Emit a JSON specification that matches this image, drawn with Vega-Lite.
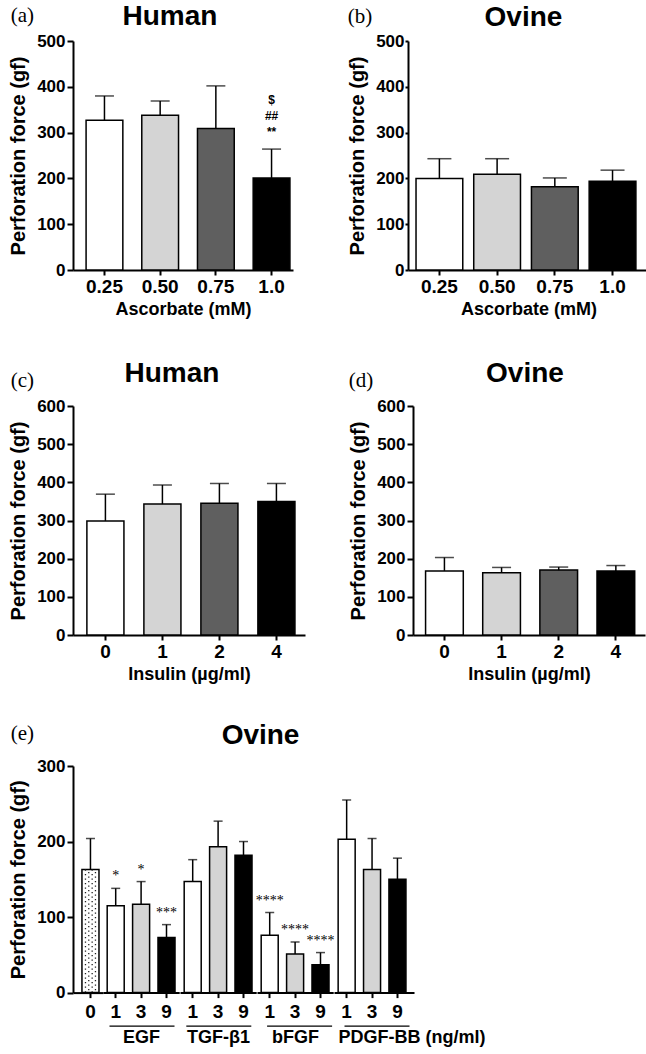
{
  "$schema": "https://vega.github.io/schema/vega-lite/v6.json",
  "background": "white",
  "padding": {"left": 8, "top": 2, "right": 0, "bottom": 0},
  "config": {
    "view": {"stroke": null},
    "font": "Liberation Sans",
    "axis": {"domainColor": "#000", "domainWidth": 2, "tickColor": "#000", "tickWidth": 2, "tickSize": 6, "labelFont": "Liberation Sans", "labelFontWeight": "bold", "labelFontSize": 17, "labelColor": "#000", "titleFont": "Liberation Sans", "titleFontWeight": "bold", "titleFontSize": 20, "titleColor": "#000", "grid": false, "labelPadding": 2},
    "axisX": {"labelAngle": 0, "labelFontSize": 19, "titlePadding": 4, "titleFontSize": 18, "tickSize": 5},
    "axisY": {"titlePadding": 8},
    "title": {"font": "Liberation Sans", "fontSize": 28, "fontWeight": "bold", "color": "#000"}
  },
  "datasets": {
    "ascH": [
      {"conc": "0.25", "mean": 327, "upper": 380, "sig": ""},
      {"conc": "0.50", "mean": 338, "upper": 369, "sig": ""},
      {"conc": "0.75", "mean": 309, "upper": 402, "sig": ""},
      {"conc": "1.0", "mean": 201, "upper": 264, "sig": "$|##|**"}
    ],
    "ascO": [
      {"conc": "0.25", "mean": 200, "upper": 243},
      {"conc": "0.50", "mean": 209, "upper": 243},
      {"conc": "0.75", "mean": 182, "upper": 201},
      {"conc": "1.0", "mean": 194, "upper": 218}
    ],
    "insH": [
      {"dose": "0", "mean": 299, "upper": 369},
      {"dose": "1", "mean": 343, "upper": 393},
      {"dose": "2", "mean": 345, "upper": 397},
      {"dose": "4", "mean": 350, "upper": 397}
    ],
    "insO": [
      {"dose": "0", "mean": 168, "upper": 203},
      {"dose": "1", "mean": 163, "upper": 177},
      {"dose": "2", "mean": 170, "upper": 178},
      {"dose": "4", "mean": 168, "upper": 182}
    ],
    "ovE": [
      {"factor": "control", "dose": "0", "mean": 163, "upper": 204, "sig": ""},
      {"factor": "EGF", "dose": "1", "mean": 115, "upper": 138, "sig": "*"},
      {"factor": "EGF", "dose": "3", "mean": 117, "upper": 147, "sig": "*"},
      {"factor": "EGF", "dose": "9", "mean": 73, "upper": 90, "sig": "***"},
      {"factor": "TGF-β1", "dose": "1", "mean": 147, "upper": 176, "sig": ""},
      {"factor": "TGF-β1", "dose": "3", "mean": 193, "upper": 227, "sig": ""},
      {"factor": "TGF-β1", "dose": "9", "mean": 182, "upper": 200, "sig": ""},
      {"factor": "bFGF", "dose": "1", "mean": 76, "upper": 106, "sig": "****"},
      {"factor": "bFGF", "dose": "3", "mean": 51, "upper": 67, "sig": "****"},
      {"factor": "bFGF", "dose": "9", "mean": 37, "upper": 53, "sig": "****"},
      {"factor": "PDGF-BB", "dose": "1", "mean": 203, "upper": 255, "sig": ""},
      {"factor": "PDGF-BB", "dose": "3", "mean": 163, "upper": 204, "sig": ""},
      {"factor": "PDGF-BB", "dose": "9", "mean": 150, "upper": 178, "sig": ""}
    ]
  },
  "spacing": 42,
  "vconcat": [
    {
      "spacing": 54,
      "hconcat": [
        {
          "title": {"text": "(a)", "anchor": "start", "frame": "bounds", "font": "Liberation Serif", "fontSize": 21, "fontWeight": "normal", "offset": -23, "dx": 2},
          "vconcat": [
            {
              "title": {"text": "Human", "dx": -13, "offset": 0},
              "width": 220, "height": 229,
              "data": {"name": "ascH"},
              "encoding": {"x": {"field": "conc", "type": "nominal", "sort": null, "scale": {"paddingInner": 0.34, "paddingOuter": 0.145, "align": 0.81}, "axis": {"title": "Ascorbate (mM)"}}},
              "layer": [
                {"mark": {"type": "bar", "stroke": "black", "strokeWidth": 1.5},
                 "encoding": {"y": {"field": "mean", "type": "quantitative", "title": "Perforation force (gf)", "scale": {"domain": [0, 500]}, "axis": {"values": [0, 100, 200, 300, 400, 500]}},
                              "fill": {"condition": [{"test": "datum.conc === '0.50'", "value": "#d4d4d4"}, {"test": "datum.conc === '0.75'", "value": "#5f5f5f"}, {"test": "datum.conc === '1.0'", "value": "#000000"}], "value": "#ffffff"}}},
                {"mark": {"type": "rule", "strokeWidth": 1.5, "color": "black"},
                 "encoding": {"y": {"field": "mean", "type": "quantitative", "title": "Perforation force (gf)", "axis": {"values": [0, 100, 200, 300, 400, 500]}}, "y2": {"field": "upper"}}},
                {"mark": {"type": "tick", "size": 19, "thickness": 1.5, "color": "black"},
                 "encoding": {"y": {"field": "upper", "type": "quantitative", "title": "Perforation force (gf)", "axis": {"values": [0, 100, 200, 300, 400, 500]}}}},
                {"mark": {"type": "text", "color": "black", "lineBreak": "|", "baseline": "alphabetic", "dy": -45, "fontSize": 12, "fontWeight": "bold", "lineHeight": 16},
                 "encoding": {"y": {"field": "upper", "type": "quantitative", "title": "Perforation force (gf)", "axis": {"values": [0, 100, 200, 300, 400, 500]}}, "text": {"field": "sig"}}}
              ]
            }
          ]
        },
        {
          "title": {"text": "(b)", "anchor": "start", "frame": "bounds", "font": "Liberation Serif", "fontSize": 21, "fontWeight": "normal", "offset": -23, "dx": 0},
          "vconcat": [
            {
              "title": {"text": "Ovine", "dx": -5, "offset": 0},
              "width": 241, "height": 229,
              "data": {"name": "ascO"},
              "encoding": {"x": {"field": "conc", "type": "nominal", "sort": null, "scale": {"paddingInner": 0.19, "paddingOuter": 0.183, "align": 0.38}, "axis": {"title": "Ascorbate (mM)"}}},
              "layer": [
                {"mark": {"type": "bar", "stroke": "black", "strokeWidth": 1.5},
                 "encoding": {"y": {"field": "mean", "type": "quantitative", "title": "Perforation force (gf)", "scale": {"domain": [0, 500]}, "axis": {"values": [0, 100, 200, 300, 400, 500], "tickSize": 3, "labelPadding": 1}},
                              "fill": {"condition": [{"test": "datum.conc === '0.50'", "value": "#d4d4d4"}, {"test": "datum.conc === '0.75'", "value": "#5f5f5f"}, {"test": "datum.conc === '1.0'", "value": "#000000"}], "value": "#ffffff"}}},
                {"mark": {"type": "rule", "strokeWidth": 1.5, "color": "black"},
                 "encoding": {"y": {"field": "mean", "type": "quantitative", "title": "Perforation force (gf)", "axis": {"values": [0, 100, 200, 300, 400, 500], "tickSize": 3, "labelPadding": 1}}, "y2": {"field": "upper"}}},
                {"mark": {"type": "tick", "size": 24, "thickness": 1.5, "color": "black"},
                 "encoding": {"y": {"field": "upper", "type": "quantitative", "title": "Perforation force (gf)", "axis": {"values": [0, 100, 200, 300, 400, 500], "tickSize": 3, "labelPadding": 1}}}}
              ]
            }
          ]
        }
      ]
    },
    {
      "spacing": 39,
      "vconcat": [
        {
          "spacing": 43,
          "hconcat": [
            {
              "title": {"text": "(c)", "anchor": "start", "frame": "bounds", "font": "Liberation Serif", "fontSize": 21, "fontWeight": "normal", "offset": -31, "dx": 2},
              "vconcat": [
                {
                  "title": {"text": "Human", "dx": -17, "offset": 9},
                  "width": 232, "height": 229,
                  "data": {"name": "insH"},
                  "encoding": {"x": {"field": "dose", "type": "nominal", "sort": null, "scale": {"paddingInner": 0.35, "paddingOuter": 0.21, "align": 0.58}, "axis": {"title": "Insulin (µg/ml)"}}},
                  "layer": [
                    {"mark": {"type": "bar", "stroke": "black", "strokeWidth": 1.5},
                     "encoding": {"y": {"field": "mean", "type": "quantitative", "title": "Perforation force (gf)", "scale": {"domain": [0, 600]}, "axis": {"values": [0, 100, 200, 300, 400, 500, 600], "labelOverlap": false}},
                                  "fill": {"condition": [{"test": "datum.dose === '1'", "value": "#d4d4d4"}, {"test": "datum.dose === '2'", "value": "#5f5f5f"}, {"test": "datum.dose === '4'", "value": "#000000"}], "value": "#ffffff"}}},
                    {"mark": {"type": "rule", "strokeWidth": 1.5, "color": "black"},
                     "encoding": {"y": {"field": "mean", "type": "quantitative", "title": "Perforation force (gf)", "axis": {"values": [0, 100, 200, 300, 400, 500, 600], "labelOverlap": false}}, "y2": {"field": "upper"}}},
                    {"mark": {"type": "tick", "size": 19, "thickness": 1.5, "color": "black"},
                     "encoding": {"y": {"field": "upper", "type": "quantitative", "title": "Perforation force (gf)", "axis": {"values": [0, 100, 200, 300, 400, 500, 600], "labelOverlap": false}}}}
                  ]
                }
              ]
            },
            {
              "title": {"text": "(d)", "anchor": "start", "frame": "bounds", "font": "Liberation Serif", "fontSize": 21, "fontWeight": "normal", "offset": -31, "dx": 0},
              "vconcat": [
                {
                  "title": {"text": "Ovine", "dx": -4, "offset": 9},
                  "width": 232, "height": 229,
                  "data": {"name": "insO"},
                  "encoding": {"x": {"field": "dose", "type": "nominal", "sort": null, "scale": {"paddingInner": 0.34, "paddingOuter": 0.2, "align": 0.55}, "axis": {"title": "Insulin (µg/ml)"}}},
                  "layer": [
                    {"mark": {"type": "bar", "stroke": "black", "strokeWidth": 1.5},
                     "encoding": {"y": {"field": "mean", "type": "quantitative", "title": "Perforation force (gf)", "scale": {"domain": [0, 600]}, "axis": {"values": [0, 100, 200, 300, 400, 500, 600], "labelOverlap": false}},
                                  "fill": {"condition": [{"test": "datum.dose === '1'", "value": "#d4d4d4"}, {"test": "datum.dose === '2'", "value": "#5f5f5f"}, {"test": "datum.dose === '4'", "value": "#000000"}], "value": "#ffffff"}}},
                    {"mark": {"type": "rule", "strokeWidth": 1.5, "color": "black"},
                     "encoding": {"y": {"field": "mean", "type": "quantitative", "title": "Perforation force (gf)", "axis": {"values": [0, 100, 200, 300, 400, 500, 600], "labelOverlap": false}}, "y2": {"field": "upper"}}},
                    {"mark": {"type": "tick", "size": 19, "thickness": 1.5, "color": "black"},
                     "encoding": {"y": {"field": "upper", "type": "quantitative", "title": "Perforation force (gf)", "axis": {"values": [0, 100, 200, 300, 400, 500, 600], "labelOverlap": false}}}}
                  ]
                }
              ]
            }
          ]
        },
        {
          "title": {"text": "(e)", "anchor": "start", "frame": "bounds", "font": "Liberation Serif", "fontSize": 21, "fontWeight": "normal", "offset": -22, "dx": 2},
          "vconcat": [
            {
              "title": {"text": "Ovine", "dx": 213, "offset": 7},
              "spacing": 0,
              "bounds": "flush",
              "hconcat": [
                {
                  "width": 30, "height": 226.6,
                  "data": {"name": "ovE"},
                  "transform": [{"filter": {"field": "factor", "equal": "control"}}],
                  "encoding": {"x": {"field": "dose", "type": "nominal", "sort": null, "scale": {"paddingInner": 0.33, "paddingOuter": 0.255, "align": 0.69}, "axis": {"title": null, "labelPadding": 5}}},
                  "layer": [
                    {"mark": {"type": "bar", "stroke": "black", "strokeWidth": 1.5, "fill": "white"},
                     "encoding": {"y": {"field": "mean", "type": "quantitative", "title": "Perforation force (gf)", "scale": {"domain": [0, 300]}, "axis": {"values": [0, 100, 200, 300]}}}},
                    {"mark": {"type": "rule", "strokeWidth": 1.3, "strokeDash": [1.3, 3.2], "color": "#222", "xOffset": -5},
                     "encoding": {"y": {"field": "mean", "type": "quantitative", "title": "Perforation force (gf)", "axis": {"values": [0, 100, 200, 300]}}, "y2": {"datum": 1}}},
                    {"mark": {"type": "rule", "strokeWidth": 1.3, "strokeDash": [1.3, 3.2], "strokeDashOffset": 2, "color": "#222", "xOffset": -1.7},
                     "encoding": {"y": {"field": "mean", "type": "quantitative", "title": "Perforation force (gf)", "axis": {"values": [0, 100, 200, 300]}}, "y2": {"datum": 1}}},
                    {"mark": {"type": "rule", "strokeWidth": 1.3, "strokeDash": [1.3, 3.2], "color": "#222", "xOffset": 1.7},
                     "encoding": {"y": {"field": "mean", "type": "quantitative", "title": "Perforation force (gf)", "axis": {"values": [0, 100, 200, 300]}}, "y2": {"datum": 1}}},
                    {"mark": {"type": "rule", "strokeWidth": 1.3, "strokeDash": [1.3, 3.2], "strokeDashOffset": 2, "color": "#222", "xOffset": 5},
                     "encoding": {"y": {"field": "mean", "type": "quantitative", "title": "Perforation force (gf)", "axis": {"values": [0, 100, 200, 300]}}, "y2": {"datum": 1}}},
                    {"mark": {"type": "rule", "strokeWidth": 1.5, "color": "black"},
                     "encoding": {"y": {"field": "mean", "type": "quantitative", "title": "Perforation force (gf)", "axis": {"values": [0, 100, 200, 300]}}, "y2": {"field": "upper"}}},
                    {"mark": {"type": "tick", "size": 9, "thickness": 1.5, "color": "black"},
                     "encoding": {"y": {"field": "upper", "type": "quantitative", "title": "Perforation force (gf)", "axis": {"values": [0, 100, 200, 300]}}}}
                  ]
                },
                {
                  "width": 76.2, "height": 226.6,
                  "data": {"name": "ovE"},
                  "transform": [{"filter": {"field": "factor", "equal": "EGF"}}],
                  "resolve": {"axis": {"x": "independent"}},
                  "layer": [
                    {"mark": {"type": "bar", "stroke": "black", "strokeWidth": 1.5},
                     "encoding": {"x": {"field": "dose", "type": "nominal", "sort": null, "scale": {"paddingInner": 0.33, "paddingOuter": 0.165}, "axis": {"title": null, "orient": "bottom", "labelPadding": 5}},
                                  "y": {"field": "mean", "type": "quantitative", "scale": {"domain": [0, 300]}, "axis": null},
                                  "fill": {"condition": [{"test": "datum.dose === '3'", "value": "#d4d4d4"}, {"test": "datum.dose === '9'", "value": "#000000"}], "value": "#ffffff"}}},
                    {"mark": {"type": "rule", "strokeWidth": 1.5, "color": "black"},
                     "encoding": {"x": {"field": "dose", "type": "nominal", "sort": null, "axis": {"orient": "bottom", "offset": 33, "labels": false, "ticks": false, "domainWidth": 1.2, "domainDash": [65, 11.2], "domainDashOffset": 70.2, "title": "EGF", "titlePadding": 3}},
                                  "y": {"field": "mean", "type": "quantitative", "axis": null}, "y2": {"field": "upper"}}},
                    {"mark": {"type": "tick", "size": 9, "thickness": 1.5, "color": "black"},
                     "encoding": {"x": {"field": "dose", "type": "nominal", "sort": null, "axis": null},
                                  "y": {"field": "upper", "type": "quantitative", "axis": null}}},
                    {"mark": {"type": "text", "color": "black", "font": "Liberation Serif", "fontSize": 14, "baseline": "alphabetic", "dy": -8},
                     "encoding": {"x": {"field": "dose", "type": "nominal", "sort": null, "axis": null},
                                  "y": {"field": "upper", "type": "quantitative", "axis": null}, "text": {"field": "sig"}}}
                  ]
                },
                {
                  "width": 76.2, "height": 226.6,
                  "data": {"name": "ovE"},
                  "transform": [{"filter": {"field": "factor", "equal": "TGF-β1"}}],
                  "resolve": {"axis": {"x": "independent"}},
                  "layer": [
                    {"mark": {"type": "bar", "stroke": "black", "strokeWidth": 1.5},
                     "encoding": {"x": {"field": "dose", "type": "nominal", "sort": null, "scale": {"paddingInner": 0.33, "paddingOuter": 0.165}, "axis": {"title": null, "orient": "bottom", "labelPadding": 5}},
                                  "y": {"field": "mean", "type": "quantitative", "scale": {"domain": [0, 300]}, "axis": null},
                                  "fill": {"condition": [{"test": "datum.dose === '3'", "value": "#d4d4d4"}, {"test": "datum.dose === '9'", "value": "#000000"}], "value": "#ffffff"}}},
                    {"mark": {"type": "rule", "strokeWidth": 1.5, "color": "black"},
                     "encoding": {"x": {"field": "dose", "type": "nominal", "sort": null, "axis": {"orient": "bottom", "offset": 33, "labels": false, "ticks": false, "domainWidth": 1.2, "domainDash": [65, 11.2], "domainDashOffset": 70.4, "title": "TGF-β1", "titlePadding": 3}},
                                  "y": {"field": "mean", "type": "quantitative", "axis": null}, "y2": {"field": "upper"}}},
                    {"mark": {"type": "tick", "size": 9, "thickness": 1.5, "color": "black"},
                     "encoding": {"x": {"field": "dose", "type": "nominal", "sort": null, "axis": null},
                                  "y": {"field": "upper", "type": "quantitative", "axis": null}}}
                  ]
                },
                {
                  "width": 76.2, "height": 226.6,
                  "data": {"name": "ovE"},
                  "transform": [{"filter": {"field": "factor", "equal": "bFGF"}}],
                  "resolve": {"axis": {"x": "independent"}},
                  "layer": [
                    {"mark": {"type": "bar", "stroke": "black", "strokeWidth": 1.5},
                     "encoding": {"x": {"field": "dose", "type": "nominal", "sort": null, "scale": {"paddingInner": 0.33, "paddingOuter": 0.165}, "axis": {"title": null, "orient": "bottom", "labelPadding": 5}},
                                  "y": {"field": "mean", "type": "quantitative", "scale": {"domain": [0, 300]}, "axis": null},
                                  "fill": {"condition": [{"test": "datum.dose === '3'", "value": "#d4d4d4"}, {"test": "datum.dose === '9'", "value": "#000000"}], "value": "#ffffff"}}},
                    {"mark": {"type": "rule", "strokeWidth": 1.5, "color": "black"},
                     "encoding": {"x": {"field": "dose", "type": "nominal", "sort": null, "axis": {"orient": "bottom", "offset": 33, "labels": false, "ticks": false, "domainWidth": 1.2, "domainDash": [65, 11.2], "domainDashOffset": 66.6, "title": "bFGF", "titlePadding": 3}},
                                  "y": {"field": "mean", "type": "quantitative", "axis": null}, "y2": {"field": "upper"}}},
                    {"mark": {"type": "tick", "size": 9, "thickness": 1.5, "color": "black"},
                     "encoding": {"x": {"field": "dose", "type": "nominal", "sort": null, "axis": null},
                                  "y": {"field": "upper", "type": "quantitative", "axis": null}}},
                    {"mark": {"type": "text", "color": "black", "font": "Liberation Serif", "fontSize": 14, "baseline": "alphabetic", "dy": -8},
                     "encoding": {"x": {"field": "dose", "type": "nominal", "sort": null, "axis": null},
                                  "y": {"field": "upper", "type": "quantitative", "axis": null}, "text": {"field": "sig"}}}
                  ]
                },
                {
                  "width": 80, "height": 226.6,
                  "data": {"name": "ovE"},
                  "transform": [{"filter": {"field": "factor", "equal": "PDGF-BB"}}],
                  "resolve": {"axis": {"x": "independent"}},
                  "layer": [
                    {"mark": {"type": "bar", "stroke": "black", "strokeWidth": 1.5},
                     "encoding": {"x": {"field": "dose", "type": "nominal", "sort": null, "scale": {"paddingInner": 0.33, "paddingOuter": 0.24, "align": 0.34}, "axis": {"title": null, "orient": "bottom", "labelPadding": 5}},
                                  "y": {"field": "mean", "type": "quantitative", "scale": {"domain": [0, 300]}, "axis": null},
                                  "fill": {"condition": [{"test": "datum.dose === '3'", "value": "#d4d4d4"}, {"test": "datum.dose === '9'", "value": "#000000"}], "value": "#ffffff"}}},
                    {"mark": {"type": "rule", "strokeWidth": 1.5, "color": "black"},
                     "encoding": {"x": {"field": "dose", "type": "nominal", "sort": null, "axis": {"orient": "bottom", "offset": 33, "labels": false, "ticks": false, "domainWidth": 1.2, "domainDash": [65, 15], "domainDashOffset": 70, "title": "PDGF-BB (ng/ml)", "titlePadding": 3, "titleAlign": "left", "titleX": 4}},
                                  "y": {"field": "mean", "type": "quantitative", "axis": null}, "y2": {"field": "upper"}}},
                    {"mark": {"type": "tick", "size": 9, "thickness": 1.5, "color": "black"},
                     "encoding": {"x": {"field": "dose", "type": "nominal", "sort": null, "axis": null},
                                  "y": {"field": "upper", "type": "quantitative", "axis": null}}}
                  ]
                }
              ]
            }
          ]
        }
      ]
    }
  ]
}
